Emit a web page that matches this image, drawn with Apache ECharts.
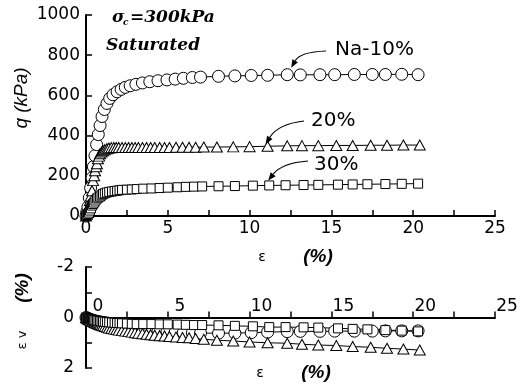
<!DOCTYPE html>
<html><head><meta charset="utf-8">
<script src="https://cdn.jsdelivr.net/npm/echarts@6/dist/echarts.min.js"></script>
<style>html,body{margin:0;padding:0;background:#fff}#c{width:526px;height:385px}</style>
</head><body><div id="c"></div>
<script>
// ---- data ----
const xTickLabels = [0, 5, 10, 15, 20, 25];
const qTickLabels = [0, 200, 400, 600, 800, 1000];
const evTickLabels = [-2, 0, 2];

const epsNa10 = [0,0.05,0.12,0.2,0.28,0.37,0.45,0.55,0.65,0.75,0.86,0.98,1.12,1.28,1.45,1.65,1.9,2.15,2.4,2.7,3.05,3.45,3.9,4.4,4.95,5.45,5.95,6.5,7.0,8.1,9.1,10.1,11.1,12.3,13.1,14.3,15.2,16.4,17.5,18.3,19.3,20.3];
const qNa10   = [0,20,45,90,140,190,245,300,355,405,450,495,530,560,585,603,618,630,640,648,655,662,668,673,677,681,685,689,691,695,697,699,700,703,702,703,703,704,704,704,705,703];
const evNa10  = [0,0.02,0.04,0.06,0.08,0.1,0.12,0.14,0.16,0.18,0.2,0.22,0.24,0.27,0.3,0.32,0.35,0.38,0.4,0.43,0.46,0.49,0.52,0.55,0.57,0.59,0.6,0.61,0.62,0.62,0.62,0.6,0.58,0.56,0.55,0.55,0.54,0.54,0.54,0.53,0.53,0.53];

const eps20 = [0,0.05,0.12,0.18,0.24,0.3,0.37,0.43,0.5,0.55,0.62,0.67,0.73,0.8,0.86,0.95,1.04,1.15,1.28,1.4,1.55,1.7,1.85,2.0,2.2,2.4,2.6,2.8,3.0,3.2,3.45,3.7,3.95,4.2,4.5,4.8,5.1,5.5,5.9,6.3,6.7,7.2,8.0,9.0,10.0,11.1,12.3,13.2,14.2,15.3,16.3,17.4,18.4,19.4,20.4];
const q20   = [0,8,17,45,77,100,126,176,200,225,245,260,285,298,310,318,325,330,335,338,340,341,341,341,341,341,341,341,341,341,341,341,341,341,341,341,341,342,342,342,342,343,343,344,345,347,349,350,350,351,351,352,352,353,353];
const ev20  = [0,0.03,0.06,0.08,0.1,0.12,0.14,0.16,0.18,0.2,0.22,0.23,0.25,0.27,0.29,0.31,0.33,0.36,0.39,0.42,0.44,0.46,0.48,0.5,0.52,0.54,0.56,0.58,0.6,0.62,0.64,0.66,0.68,0.7,0.72,0.73,0.75,0.77,0.79,0.8,0.83,0.86,0.9,0.93,0.97,1.0,1.02,1.06,1.09,1.11,1.15,1.18,1.22,1.25,1.29];

const eps30 = [0,0.05,0.12,0.18,0.24,0.3,0.37,0.43,0.5,0.58,0.67,0.76,0.86,0.95,1.04,1.15,1.28,1.42,1.59,1.75,1.9,2.05,2.2,2.5,2.8,3.1,3.5,4.0,4.5,5.0,5.6,6.1,6.6,7.1,8.1,9.1,10.2,11.2,12.2,13.3,14.2,15.4,16.3,17.2,18.3,19.3,20.3];
const q30   = [0,5,10,17,27,38,52,60,67,77,87,92,97,103,110,113,117,120,122,124,126,128,130,131,132,134,136,137,139,141,143,145,146,147,148,149,151,152,153,154,155,156,157,158,159,160,161];
const ev30  = [0,0.02,0.04,0.05,0.06,0.07,0.08,0.09,0.1,0.11,0.12,0.13,0.14,0.15,0.16,0.17,0.18,0.19,0.2,0.21,0.22,0.22,0.23,0.24,0.25,0.26,0.26,0.26,0.27,0.27,0.28,0.29,0.3,0.3,0.31,0.33,0.35,0.38,0.38,0.39,0.4,0.43,0.45,0.47,0.5,0.52,0.55];

// ---- chart ----
const zip = (a, b) => a.map((v, i) => [v, b[i]]);
const chart = echarts.init(document.getElementById('c'), null, {renderer: 'canvas'});
const BLACK = '#000';
const tickFont = 'DejaVu Sans';
const GRID2_H = 101;

function seriesFor(name, symbol, size, eps, vals, idx) {
  return {
    name, type: 'line', xAxisIndex: idx, yAxisIndex: idx,
    data: zip(eps, vals), symbol, symbolSize: size, showAllSymbol: true,
    lineStyle: {color: BLACK, width: 1},
    itemStyle: {color: '#fff', borderColor: BLACK, borderWidth: 1},
    animation: false, silent: true, z: 3
  };
}

const axisCommon = {
  type: 'value', splitLine: {show: false},
  axisLine: {show: true, onZero: true, lineStyle: {color: BLACK, width: 2}},
  axisTick: {show: true, inside: true, length: 6, lineStyle: {color: BLACK, width: 1.5}},
  axisLabel: {color: BLACK, fontSize: 17, fontFamily: tickFont}
};

const option = {
  animation: false,
  backgroundColor: '#fff',
  grid: [
    {left: 86, top: 15, width: 409, height: 201},
    {left: 86, top: 267, width: 409, height: GRID2_H}
  ],
  xAxis: [
    Object.assign({}, axisCommon, {gridIndex: 0, min: 0, max: 25, interval: 2.5,
      axisLabel: Object.assign({}, axisCommon.axisLabel, {margin: 4,
        formatter: v => xTickLabels.includes(v) ? String(v) : ''})}),
    Object.assign({}, axisCommon, {gridIndex: 1, min: 0, max: 25, interval: 2.5, position: 'top',
      offset: -GRID2_H / 2,
      axisLine: {show: true, onZero: false, lineStyle: {color: BLACK, width: 2}},
      axisTick: {show: true, inside: false, length: 6, lineStyle: {color: BLACK, width: 1.5}},
      axisLabel: Object.assign({}, axisCommon.axisLabel, {margin: 2, padding: [0, 0, 0, 24],
        formatter: v => xTickLabels.includes(v) ? String(v) : ''})})
  ],
  yAxis: [
    Object.assign({}, axisCommon, {gridIndex: 0, min: 0, max: 1000, interval: 200,
      axisLabel: Object.assign({}, axisCommon.axisLabel, {margin: 6,
        formatter: v => qTickLabels.includes(v) ? String(v) : ''})}),
    Object.assign({}, axisCommon, {gridIndex: 1, min: -2, max: 2, interval: 1, inverse: true,
      axisLabel: Object.assign({}, axisCommon.axisLabel, {margin: 12,
        formatter: v => evTickLabels.includes(v) ? String(v) : ''})})
  ],
  series: [
    seriesFor('Na-10%', 'circle', 12, epsNa10, qNa10, 0),
    seriesFor('20%', 'triangle', [11, 10], eps20, q20, 0),
    seriesFor('30%', 'rect', 9, eps30, q30, 0),
    seriesFor('Na-10% ev', 'circle', 12, epsNa10, evNa10, 1),
    seriesFor('20% ev', 'triangle', [11, 10], eps20, ev20, 1),
    seriesFor('30% ev', 'rect', 9, eps30, ev30, 1)
  ]
};
chart.setOption(option);

// ---- annotations ----
function txt(text, x, y, font, align, extra) {
  return Object.assign({type: 'text', x, y, z: 10, silent: true,
    style: {text, font, fill: BLACK, align: align || 'left', verticalAlign: 'middle'}}, extra || {});
}
function arrow(tip, start, ctrl) {
  const dx = tip[0] - ctrl[0], dy = tip[1] - ctrl[1];
  const L = Math.hypot(dx, dy), ux = dx / L, uy = dy / L;
  const hl = 8, hw = 3.2;
  const bx = tip[0] - ux * hl, by = tip[1] - uy * hl;
  return [
    {type: 'bezierCurve', z: 10, silent: true,
      shape: {x1: start[0], y1: start[1], x2: bx, y2: by, cpx1: ctrl[0], cpy1: ctrl[1]},
      style: {stroke: BLACK, lineWidth: 1.2, fill: null}},
    {type: 'polygon', z: 10, silent: true,
      shape: {points: [tip, [bx - uy * hw, by + ux * hw], [bx + uy * hw, by - ux * hw]]},
      style: {fill: BLACK}}
  ];
}
const px = (i, p) => chart.convertToPixel({gridIndex: i}, p);
const tipNa = px(0, [epsNa10[33], qNa10[33]]);
const tip20 = px(0, [eps20[45], q20[45]]);
const tip30 = px(0, [eps30[37], q30[37]]);
const a1 = [tipNa[0] + 4, tipNa[1] - 7];
const a2 = [tip20[0] - 2, tip20[1] - 2];
const a3 = [tip30[0] - 1, tip30[1] - 5];

const serifBI = 'italic bold 17px "DejaVu Serif"';
const annFont = '20px "DejaVu Sans"';
const graphics = [
  txt('σ', 112, 18, serifBI),
  txt('c', 123, 23, 'italic bold 9px "DejaVu Serif"'),
  txt('=300kPa', 130, 18, serifBI),
  txt('Saturated', 106, 46, serifBI),
  txt('Na-10%', 335, 50, annFont),
  txt('20%', 311, 121, annFont),
  txt('30%', 314, 165, annFont),
  txt('q (kPa)', 22, 98, 'italic 19px "Liberation Sans"', 'center', {rotation: Math.PI / 2}),
  txt('ε', 262, 257, '14px "DejaVu Sans"', 'center'),
  txt('(%)', 318, 257, 'italic bold 19px "Liberation Sans"', 'center'),
  txt('ε', 260, 373, '14px "DejaVu Sans"', 'center'),
  txt('(%)', 316, 373, 'italic bold 19px "Liberation Sans"', 'center'),
  txt('ε v', 23, 340, '13px "DejaVu Sans"', 'center', {rotation: Math.PI / 2}),
  txt('(%)', 23, 288, 'italic bold 19px "Liberation Sans"', 'center', {rotation: Math.PI / 2})
].concat(
  arrow(a1, [326, 51], [300, 52]),
  arrow(a2, [304, 121], [278, 124]),
  arrow(a3, [308, 161], [282, 163])
);
chart.setOption({graphic: graphics});
</script>
</body></html>
